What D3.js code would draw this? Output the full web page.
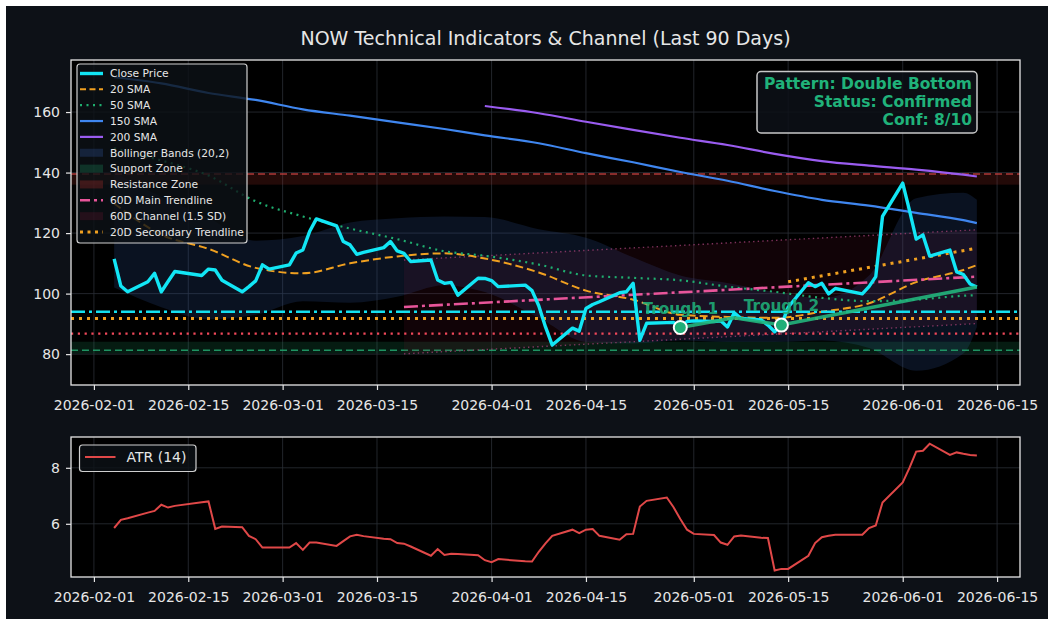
<!DOCTYPE html>
<html>
<head>
<meta charset="utf-8">
<script src="https://cdn.jsdelivr.net/npm/d3@7"></script>
<style>
  html, body { margin: 0; padding: 0; background: #fff; }
  svg { display: block; font-family: "DejaVu Sans", sans-serif; }
</style>
</head>
<body>
<div id="chart"></div>
<script>
// ---- data ----
const firstDay = "2026-02-04";
const lastDay = "2026-06-12";
const holidays = ["2026-02-16", "2026-04-03", "2026-05-25"];

const closePrice = [
  111.5, 102.5, 100.6, 103.9, 106.7, 100.6, 104.0, 107.3, 106.0, 108.1, 107.8, 104.4, 100.6, 102.3, 104.2, 109.5, 108.1,
  109.5, 113.4, 114.4, 120.5, 124.7, 122.4, 117.2, 116.1, 113.0, 113.6, 115.2, 117.2, 114.1, 113.3, 110.6, 111.1, 104.5, 103.4, 103.7, 99.5, 105.1, 105.0,
  104.3, 102.3, 102.8, 101.0, 96.0, 89.0, 83.0, 88.6, 87.6, 95.1, 96.4, 97.3, 100.3, 100.6, 103.4, 84.6, 90.2, 90.4, 90.5, 89.0, 90.8,
  91.0, 90.8, 91.0, 89.0, 93.7, 91.8, 91.3, 89.6, 87.4, 89.6, 95.5, 103.6, 102.3, 103.4, 99.9, 101.7, 99.9, 102.3, 105.6, 125.5,
  136.5, 127.5, 118.0, 119.4, 112.4, 114.4, 107.2, 106.3, 103.2, 102.2
];

const atr14 = [
  5.85, 6.14, 6.20, 6.40, 6.46, 6.68, 6.58, 6.64, 6.77, 6.80, 5.82, 5.90, 5.88, 5.57, 5.45, 5.15, 5.15,
  5.15, 5.31, 5.07, 5.33, 5.33, 5.21, 5.38, 5.55, 5.61, 5.56, 5.47, 5.45, 5.31, 5.29, 5.19, 4.86, 5.10, 4.89, 4.93, 4.92, 4.88, 4.70,
  4.63, 4.74, 4.66, 4.65, 5.00, 5.30, 5.57, 5.79, 5.67, 5.79, 5.81, 5.57, 5.43, 5.63, 5.64, 6.62, 6.82, 6.94, 6.59, 6.17, 5.79,
  5.64, 5.60, 5.33, 5.25, 5.55, 5.58, 5.50, 5.49, 4.33, 4.39, 4.39, 4.86, 5.31, 5.52, 5.57, 5.61, 5.61, 5.85, 5.94, 6.76,
  7.48, 8.00, 8.58, 8.61, 8.86, 8.46, 8.55, 8.50, 8.46, 8.44
];

// indicator readings, one per week
const keyDates = ["2026-02-04", "2026-02-11", "2026-02-18", "2026-02-25", "2026-03-04", "2026-03-11", "2026-03-18",
  "2026-03-25", "2026-03-31", "2026-04-08", "2026-04-15", "2026-04-22", "2026-04-29", "2026-05-06", "2026-05-13",
  "2026-05-20", "2026-05-27", "2026-06-03", "2026-06-10", "2026-06-12"];
const sma20 = [129.8, 119.5, 114.8, 108.5, 106.7, 110.0, 112.3, 113.3, 111.6, 107.0, 101.0, 98.0, 93.0, 92.3, 92.0, 94.0, 96.8, 103.8, 107.8, 109.4];
const sma50 = [148.0, 144.0, 139.0, 130.5, 125.5, 121.5, 118.0, 114.0, 112.5, 109.6, 106.0, 105.2, 104.4, 102.3, 100.6, 98.6, 97.5, 98.0, 99.3, 99.5];
const sma150 = [171.5, 169.5, 166.3, 164.0, 160.9, 158.8, 156.6, 154.4, 152.3, 149.7, 146.4, 143.4, 140.2, 137.3, 133.9, 131.0, 129.1, 126.7, 124.3, 123.3];
const sma200 = [null, null, null, null, null, null, null, null, 162.0, 159.6, 156.8, 154.1, 151.5, 149.1, 146.2, 143.8, 142.3, 141.0, 139.3, 138.7];
const bbUpper = [140.0, 132.0, 125.0, 117.5, 119.0, 123.5, 124.9, 125.5, 125.3, 121.3, 118.5, 112.0, 106.0, 103.5, 100.5, 98.5, 106.0, 131.5, 133.3, 131.0];
const bbLower = [102.0, 95.5, 91.5, 93.0, 97.5, 97.0, 99.0, 102.8, 100.5, 92.0, 84.0, 83.5, 84.5, 84.0, 84.0, 84.5, 82.0, 74.5, 80.2, 89.0];

// levels
const supportLevel = 81.3, supportZone = [80.2, 84.1];
const resistanceLevel = 139.5, resistanceZone = [136.0, 139.8];
const pivotLevel = 94.0, neckLevel = 91.8, stopLevel = 86.8;

// trendlines
const mainTrendDates = ["2026-03-19", "2026-06-12"];
const mainTrend = [95.6, 105.6];
const channelUpper = [111.1, 121.1];
const channelLower = [80.1, 90.1];
const secTrendDates = ["2026-05-15", "2026-06-12"];
const secTrend = [103.9, 115.0];

// double bottom
const troughDates = ["2026-04-29", "2026-05-14"];
const troughValues = [88.8, 89.6];
const troughLabels = ["Trough 1", "Trough 2"];
const patternDates = ["2026-04-29", "2026-05-07", "2026-05-14", "2026-06-12"];
const patternValues = [88.8, 92.0, 89.6, 102.2];
const patternText = ["Pattern: Double Bottom", "Status: Confirmed", "Conf: 8/10"];

const tickDates = ["2026-02-01", "2026-02-15", "2026-03-01", "2026-03-15", "2026-04-01", "2026-04-15",
  "2026-05-01", "2026-05-15", "2026-06-01", "2026-06-15"];
const priceTicks = [80, 100, 120, 140, 160];
const atrTicks = [6, 8];

// ---- setup ----
const parse = d3.utcParse("%Y-%m-%d");
const fmt = d3.utcFormat("%Y-%m-%d");
const days = d3.utcDays(parse(firstDay), d3.utcDay.offset(parse(lastDay), 1))
  .filter(d => d.getUTCDay() % 6 !== 0 && !holidays.includes(fmt(d)));

const W = 1054, H = 625;
const P = { l: 71, r: 1020, t: 60, b: 385 };
const A = { l: 71, r: 1020, t: 437, b: 577 };
const pad = 6.4 * 864e5;

const svg = d3.select("#chart").append("svg").attr("width", W).attr("height", H);
svg.append("rect").attr("width", W).attr("height", H).attr("fill", "#ffffff");
svg.append("rect").attr("x", 6).attr("y", 6).attr("width", W - 12).attr("height", H - 12).attr("fill", "#0d1117");

const x = d3.scaleUtc()
  .domain([new Date(+parse(firstDay) - pad), new Date(+parse(lastDay) + pad)])
  .range([P.l, P.r]);
const y = d3.scaleLinear().domain([69.8, 177.2]).range([P.b, P.t]);
const ya = d3.scaleLinear().domain([4.1, 9.1]).range([A.b, A.t]);

const defs = svg.append("defs");
defs.append("clipPath").attr("id", "clipP").append("rect")
  .attr("x", P.l).attr("y", P.t).attr("width", P.r - P.l).attr("height", P.b - P.t);
defs.append("clipPath").attr("id", "clipA").append("rect")
  .attr("x", A.l).attr("y", A.t).attr("width", A.r - A.l).attr("height", A.b - A.t);

function frame(box, yScale, ticks) {
  svg.append("rect").attr("x", box.l).attr("y", box.t)
    .attr("width", box.r - box.l).attr("height", box.b - box.t).attr("fill", "#000");
  const g = svg.append("g");
  g.selectAll(".gx").data(tickDates.map(parse)).join("line")
    .attr("x1", d => x(d)).attr("x2", d => x(d)).attr("y1", box.t).attr("y2", box.b)
    .attr("stroke", "#2b2f36").attr("stroke-width", 0.8);
  g.selectAll(".gy").data(ticks).join("line")
    .attr("x1", box.l).attr("x2", box.r).attr("y1", d => yScale(d)).attr("y2", d => yScale(d))
    .attr("stroke", "#2b2f36").attr("stroke-width", 0.8);
}

function axes(box, yScale, ticks) {
  const xa = svg.append("g").attr("transform", `translate(0,${box.b})`)
    .call(d3.axisBottom(x).tickValues(tickDates.map(parse)).tickFormat(fmt).tickSize(5).tickPadding(10));
  const yax = svg.append("g").attr("transform", `translate(${box.l},0)`)
    .call(d3.axisLeft(yScale).tickValues(ticks).tickFormat(d3.format("d")).tickSize(5).tickPadding(6));
  [xa, yax].forEach(a => {
    a.select(".domain").remove();
    a.selectAll("line").attr("stroke", "#e6e6e6").attr("stroke-width", 1.2);
    a.selectAll("text").attr("fill", "#e6e6e6").style("font-size", "14px").style("font-family", "DejaVu Sans");
  });
  svg.append("rect").attr("x", box.l).attr("y", box.t)
    .attr("width", box.r - box.l).attr("height", box.b - box.t)
    .attr("fill", "none").attr("stroke", "#e6e6e6").attr("stroke-width", 1.3);
}

// ---- price panel ----
frame(P, y, priceTicks);
const pg = svg.append("g").attr("clip-path", "url(#clipP)");

const kd = keyDates.map(parse);
const smooth = d3.curveMonotoneX;

// bollinger band
pg.append("path")
  .attr("d", d3.area().curve(smooth).x((d, i) => x(kd[i])).y0((d, i) => y(bbLower[i])).y1(d => y(d))(bbUpper))
  .attr("fill", "#2a4a8a").attr("fill-opacity", 0.24);

// support / resistance zones
pg.append("rect").attr("x", P.l).attr("width", P.r - P.l)
  .attr("y", y(supportZone[1])).attr("height", y(supportZone[0]) - y(supportZone[1]))
  .attr("fill", "#1f8a5c").attr("fill-opacity", 0.2);
pg.append("rect").attr("x", P.l).attr("width", P.r - P.l)
  .attr("y", y(resistanceZone[1])).attr("height", y(resistanceZone[0]) - y(resistanceZone[1]))
  .attr("fill", "#b0302a").attr("fill-opacity", 0.2);

function hline(v, color, width, dash, op) {
  pg.append("line").attr("x1", P.l).attr("x2", P.r).attr("y1", y(v)).attr("y2", y(v))
    .attr("stroke", color).attr("stroke-width", width).attr("stroke-dasharray", dash)
    .attr("stroke-opacity", op || 1);
}
hline(supportLevel, "#22a06b", 1.5, "7,4", 0.9);
hline(resistanceLevel, "#d04545", 1.5, "7,4", 0.8);

// 60D channel
const md = mainTrendDates.map(parse);
pg.append("path")
  .attr("d", d3.area().x((d, i) => x(md[i])).y0((d, i) => y(channelLower[i])).y1(d => y(d))(channelUpper))
  .attr("fill", "#8a1a3a").attr("fill-opacity", 0.12);
[channelUpper, channelLower].forEach(arr => {
  pg.append("path").attr("d", d3.line().x((d, i) => x(md[i])).y(d => y(d))(arr))
    .attr("fill", "none").attr("stroke", "#9c3f72").attr("stroke-width", 1.4)
    .attr("stroke-dasharray", "1.4,3.2").attr("stroke-opacity", 0.8);
});

// moving averages
function series(vals, color, width, dash) {
  pg.append("path")
    .attr("d", d3.line().defined(d => d != null).curve(smooth).x((d, i) => x(kd[i])).y(d => y(d))(vals))
    .attr("fill", "none").attr("stroke", color).attr("stroke-width", width)
    .attr("stroke-dasharray", dash || null);
}
series(sma20, "#f0a020", 2, "8,4");
series(sma50, "#1fae6f", 2.2, "2,4.5");
series(sma150, "#3f86ef", 2.2);
series(sma200, "#9a5cf0", 2.2);

// horizontal levels
hline(pivotLevel, "#14e0f0", 2.5, "14,4,3,4");
hline(neckLevel, "#f0a020", 3, "3,5");
hline(stopLevel, "#f0485a", 2.2, "2.2,4.6");

// trendlines
pg.append("path").attr("d", d3.line().x((d, i) => x(md[i])).y(d => y(d))(mainTrend))
  .attr("fill", "none").attr("stroke", "#e8559a").attr("stroke-width", 2.6).attr("stroke-dasharray", "14,4,3,4");
const sd = secTrendDates.map(parse);
pg.append("path").attr("d", d3.line().x((d, i) => x(sd[i])).y(d => y(d))(secTrend))
  .attr("fill", "none").attr("stroke", "#f0a020").attr("stroke-width", 3).attr("stroke-dasharray", "3,5");

// close
pg.append("path").attr("d", d3.line().x((d, i) => x(days[i])).y(d => y(d))(closePrice))
  .attr("fill", "none").attr("stroke", "#12e6f5").attr("stroke-width", 3.4).attr("stroke-linejoin", "round");

// pattern line and troughs
const pd = patternDates.map(parse);
pg.append("path").attr("d", d3.line().x((d, i) => x(pd[i])).y(d => y(d))(patternValues))
  .attr("fill", "none").attr("stroke", "#22b57c").attr("stroke-width", 3.5).attr("stroke-opacity", 0.9);
const td = troughDates.map(parse);
pg.selectAll(".trough").data(troughValues).join("circle")
  .attr("cx", (d, i) => x(td[i])).attr("cy", d => y(d)).attr("r", 6.5)
  .attr("fill", "#1fae78").attr("stroke", "#fff").attr("stroke-width", 2);
svg.selectAll(".tlabel").data(troughLabels).join("text")
  .attr("x", (d, i) => x(td[i])).attr("y", (d, i) => y(troughValues[i]) - 14)
  .attr("text-anchor", "middle").attr("fill", "#1fae78").attr("fill-opacity", 0.9)
  .style("font-size", "15.3px").style("font-weight", "bold").text(d => d);

axes(P, y, priceTicks);

// title
svg.append("text").attr("x", (P.l + P.r) / 2).attr("y", 44.5).attr("text-anchor", "middle")
  .attr("fill", "#e6e6e6").style("font-size", "19px").text("NOW Technical Indicators & Channel (Last 90 Days)");

// legend
const legendItems = [
  { label: "Close Price", type: "line", color: "#12e6f5", w: 3.4 },
  { label: "20 SMA", type: "line", color: "#f0a020", w: 2, dash: "6,3.5" },
  { label: "50 SMA", type: "line", color: "#1fae6f", w: 2.2, dash: "2,4.5" },
  { label: "150 SMA", type: "line", color: "#3f86ef", w: 2.2 },
  { label: "200 SMA", type: "line", color: "#9a5cf0", w: 2.2 },
  { label: "Bollinger Bands (20,2)", type: "patch", color: "#2a4a8a", op: 0.35 },
  { label: "Support Zone", type: "patch", color: "#1f8a5c", op: 0.3 },
  { label: "Resistance Zone", type: "patch", color: "#b0302a", op: 0.3 },
  { label: "60D Main Trendline", type: "line", color: "#e8559a", w: 2.6, dash: "10,4,3,4" },
  { label: "60D Channel (1.5 SD)", type: "patch", color: "#8a1a3a", op: 0.2 },
  { label: "20D Secondary Trendline", type: "line", color: "#f0a020", w: 3, dash: "3,4.5" }
];
const lg = svg.append("g");
lg.append("rect").attr("x", 77).attr("y", 64).attr("width", 170).attr("height", 179).attr("rx", 3)
  .attr("fill", "#0d1117").attr("fill-opacity", 0.8).attr("stroke", "#cfcfcf").attr("stroke-width", 1.2);
legendItems.forEach((it, i) => {
  const cy = 73.5 + i * 15.85;
  if (it.type === "line") {
    lg.append("line").attr("x1", 80).attr("x2", 103).attr("y1", cy).attr("y2", cy)
      .attr("stroke", it.color).attr("stroke-width", it.w).attr("stroke-dasharray", it.dash || null);
  } else {
    lg.append("rect").attr("x", 80).attr("y", cy - 4).attr("width", 23).attr("height", 8)
      .attr("fill", it.color).attr("fill-opacity", it.op);
  }
  lg.append("text").attr("x", 110).attr("y", cy + 3.8).attr("fill", "#e6e6e6")
    .style("font-size", "10.7px").text(it.label);
});

// pattern box
const pb = svg.append("g");
pb.append("rect").attr("x", 757).attr("y", 71.5).attr("width", 220).attr("height", 61.5).attr("rx", 4)
  .attr("fill", "#0d1117").attr("fill-opacity", 0.85).attr("stroke", "#c8c8c8").attr("stroke-width", 1.5);
pb.selectAll("text").data(patternText).join("text")
  .attr("x", 972).attr("y", (d, i) => 88.5 + i * 18).attr("text-anchor", "end")
  .attr("fill", "#20b27a").style("font-size", "15.5px").style("font-weight", "bold").text(d => d);

// ---- ATR panel ----
frame(A, ya, atrTicks);
svg.append("g").attr("clip-path", "url(#clipA)").append("path")
  .attr("d", d3.line().x((d, i) => x(days[i])).y(d => ya(d))(atr14))
  .attr("fill", "none").attr("stroke", "#e04848").attr("stroke-width", 2);
axes(A, ya, atrTicks);

const al = svg.append("g");
al.append("rect").attr("x", 79.5).attr("y", 445).attr("width", 116.5).attr("height", 26.5).attr("rx", 3)
  .attr("fill", "#0d1117").attr("fill-opacity", 0.8).attr("stroke", "#cfcfcf").attr("stroke-width", 1.2);
al.append("line").attr("x1", 85).attr("x2", 115.5).attr("y1", 457).attr("y2", 457)
  .attr("stroke", "#e04848").attr("stroke-width", 2);
al.append("text").attr("x", 126.5).attr("y", 462).attr("fill", "#e6e6e6")
  .style("font-size", "14px").text("ATR (14)");
</script>
</body>
</html>
